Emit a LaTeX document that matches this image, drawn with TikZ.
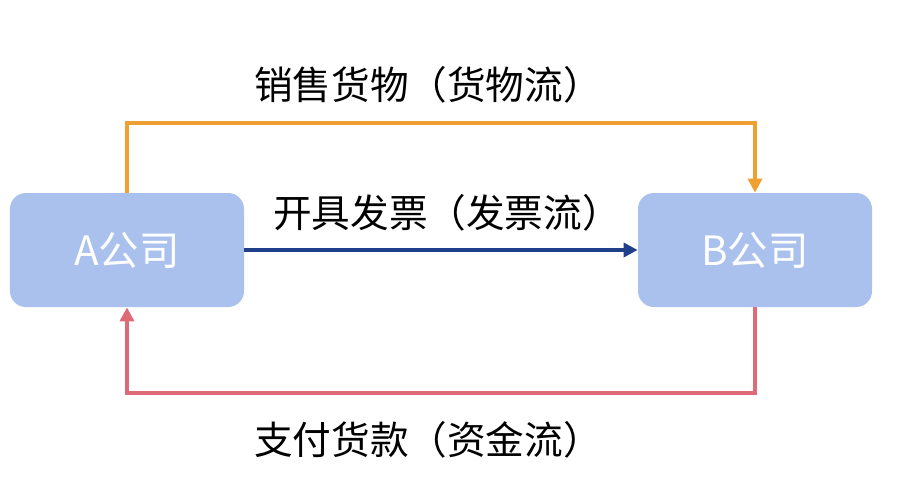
\documentclass[tikz,border=0pt]{standalone}
\usepackage{fontspec}
\setmainfont{Noto Sans CJK SC}
\usepackage{tikz}
\usetikzlibrary{arrows.meta,positioning}
\definecolor{corpfill}{HTML}{A9C1EC}
\definecolor{goodsline}{HTML}{F0A030}
\definecolor{invline}{HTML}{1F3F8A}
\definecolor{cashline}{HTML}{DE6A78}
\tikzset{
  corpbox/.style={fill=corpfill, rounded corners=9pt, minimum width=4.68cm, minimum height=2.28cm, font=\fontsize{23}{26}\selectfont, text=white},
  flowlabel/.style={font=\fontsize{22}{26}\selectfont, text=black},
  flowarrow/.style={-{Triangle[length=8pt,width=8pt]}, line width=2pt}
}
\begin{document}
\begin{tikzpicture}
\useasboundingbox (0,0) rectangle (18.36,-9.76);
\node[corpbox] (a) at (2.54,-5.0) {A公司};
\node[corpbox] (b) at (15.1,-5.0) {B公司};
\coordinate (top) at (0,-2.46);
\coordinate (bot) at (0,-7.86);
\draw[flowarrow, goodsline] (a.north) |- (top -| b.north) -- (b.north);
\draw[flowarrow, invline] (a.east) -- (b.west);
\draw[flowarrow, cashline] (b.south) |- (bot -| a.south) -- (a.south);
\node[flowlabel] (goods) at (8.56,-1.7) {销售货物（货物流）};
\node[flowlabel] (inv) at (8.94,-4.26) {开具发票（发票流）};
\node[flowlabel] (cash) at (8.56,-8.8) {支付货款（资金流）};
\end{tikzpicture}
\end{document}
